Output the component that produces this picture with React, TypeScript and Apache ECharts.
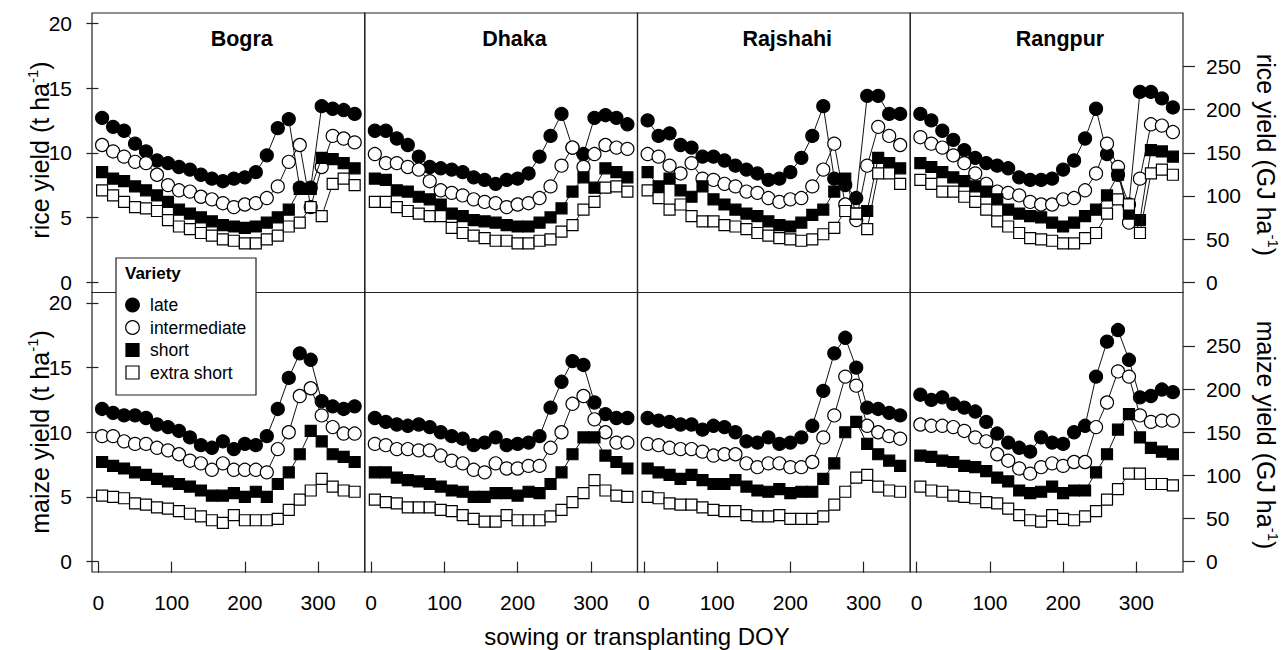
import React, { useEffect, useRef } from 'react';
import * as echarts from 'echarts';

// ---------- data ----------
const DOY = [5, 20, 35, 50, 65, 80, 95, 110, 125, 140, 155, 170, 185, 200, 215, 230, 245, 260, 275, 290, 305, 320, 335, 350];
const SITES = ['Bogra', 'Dhaka', 'Rajshahi', 'Rangpur'];
const VARIETIES = ['late', 'intermediate', 'short', 'extra short'];
const Y_TICKS = [0, 5, 10, 15, 20];
const GJ_TICKS = [0, 50, 100, 150, 200, 250];
const X_TICKS = [0, 100, 200, 300];
const GJ_PER_T = 15;

// rice (t/ha)
const BOGRA_RICE_LATE = [12.7, 12.0, 11.7, 10.7, 10.1, 9.4, 9.2, 8.9, 8.7, 8.3, 8.0, 7.8, 8.0, 8.1, 8.5, 9.8, 11.9, 12.6, 7.3, 7.3, 13.6, 13.4, 13.3, 13.0];
const BOGRA_RICE_INTER = [10.6, 10.1, 9.7, 9.3, 9.2, 8.3, 7.5, 7.1, 7.0, 6.6, 6.4, 6.1, 5.8, 6.0, 6.1, 6.5, 7.4, 9.3, 10.6, 5.8, 8.9, 11.3, 11.1, 10.8];
const BOGRA_RICE_SHORT = [8.5, 8.0, 7.8, 7.4, 7.1, 6.7, 6.2, 5.6, 5.3, 5.0, 4.7, 4.4, 4.3, 4.2, 4.3, 4.6, 5.0, 5.6, 7.2, 7.2, 9.6, 9.5, 9.2, 8.8];
const BOGRA_RICE_XSHORT = [7.1, 6.7, 6.2, 5.8, 5.7, 5.5, 4.8, 4.3, 4.1, 3.8, 3.6, 3.3, 3.2, 3.0, 3.0, 3.3, 3.6, 4.3, 4.6, 5.8, 5.1, 7.6, 8.0, 7.5];

const DHAKA_RICE_LATE = [11.7, 11.7, 11.1, 10.6, 9.7, 8.9, 8.8, 8.7, 8.5, 8.1, 7.9, 7.6, 7.9, 8.0, 8.4, 9.7, 11.3, 13.0, 10.4, 9.9, 12.7, 12.9, 12.7, 12.2];
const DHAKA_RICE_INTER = [9.9, 9.2, 9.2, 8.9, 8.7, 7.8, 7.1, 6.9, 6.7, 6.4, 6.2, 6.1, 5.8, 6.0, 6.1, 6.5, 7.4, 9.0, 10.4, 8.9, 9.9, 10.6, 10.4, 10.3];
const DHAKA_RICE_SHORT = [8.0, 7.9, 7.1, 7.0, 6.6, 6.4, 6.0, 5.3, 5.1, 4.8, 4.7, 4.6, 4.4, 4.3, 4.3, 4.6, 5.0, 5.7, 7.0, 8.1, 7.3, 8.8, 8.5, 8.1];
const DHAKA_RICE_XSHORT = [6.2, 6.2, 5.8, 5.5, 5.3, 5.1, 5.1, 4.2, 3.8, 3.6, 3.4, 3.2, 3.2, 3.0, 3.0, 3.2, 3.3, 3.9, 4.4, 5.6, 6.2, 7.3, 7.4, 7.0];

const RAJSHAHI_RICE_LATE = [12.5, 11.3, 11.5, 10.6, 10.4, 9.7, 9.7, 9.4, 9.0, 8.7, 8.4, 7.9, 8.0, 8.5, 9.6, 11.3, 13.6, 8.0, 7.5, 6.5, 14.4, 14.4, 13.0, 13.0];
const RAJSHAHI_RICE_INTER = [9.9, 9.7, 9.0, 8.4, 9.2, 8.0, 7.9, 7.6, 7.4, 7.0, 6.9, 6.5, 6.2, 6.4, 6.5, 7.4, 8.7, 10.7, 6.0, 4.8, 9.0, 12.0, 11.3, 10.6];
const RAJSHAHI_RICE_SHORT = [8.5, 7.4, 8.0, 7.1, 6.6, 7.4, 6.4, 6.0, 5.6, 5.3, 5.1, 4.7, 4.4, 4.3, 4.6, 5.2, 5.6, 7.0, 8.0, 5.3, 5.5, 9.6, 9.2, 8.8];
const RAJSHAHI_RICE_XSHORT = [7.1, 6.5, 5.6, 6.0, 5.1, 4.7, 4.7, 4.4, 4.3, 4.1, 3.8, 3.6, 3.4, 3.3, 3.2, 3.3, 3.7, 4.2, 5.5, 5.3, 4.1, 8.4, 8.4, 7.6];

const RANGPUR_RICE_LATE = [13.0, 12.5, 11.7, 11.0, 10.2, 9.6, 9.2, 9.0, 8.8, 8.1, 7.9, 7.9, 8.0, 8.7, 9.4, 11.1, 13.4, 9.9, 8.3, 6.0, 14.7, 14.7, 14.2, 13.5];
const RANGPUR_RICE_INTER = [11.2, 10.7, 10.4, 9.8, 9.2, 8.4, 7.6, 7.0, 6.9, 6.7, 6.2, 6.0, 6.0, 6.4, 6.5, 7.1, 8.4, 10.7, 8.9, 4.6, 8.0, 12.2, 12.1, 11.6];
const RANGPUR_RICE_SHORT = [9.2, 8.9, 8.5, 8.1, 7.8, 7.4, 7.0, 6.4, 5.6, 5.3, 5.1, 5.0, 4.6, 4.3, 4.6, 5.1, 5.6, 6.7, 8.3, 5.3, 4.8, 10.2, 10.1, 9.7];
const RANGPUR_RICE_XSHORT = [7.9, 7.6, 7.0, 7.0, 6.6, 6.2, 5.6, 4.7, 4.3, 3.8, 3.4, 3.3, 3.2, 3.0, 3.0, 3.4, 3.8, 5.3, 6.4, 6.0, 3.8, 8.4, 8.7, 8.3];

// maize (t/ha)
const BOGRA_MAIZE_LATE = [11.8, 11.5, 11.3, 11.3, 11.1, 10.6, 10.4, 10.1, 9.6, 9.0, 8.8, 9.3, 8.7, 9.1, 9.0, 9.7, 11.8, 14.2, 16.1, 15.6, 12.4, 12.0, 11.8, 12.0];
const BOGRA_MAIZE_INTER = [9.7, 9.7, 9.3, 9.1, 9.1, 8.8, 8.6, 8.3, 7.8, 7.6, 7.1, 7.6, 7.1, 7.1, 7.1, 6.9, 8.7, 10.0, 12.8, 13.4, 11.3, 10.4, 9.9, 9.9];
const BOGRA_MAIZE_SHORT = [7.7, 7.4, 7.2, 6.9, 6.7, 6.4, 6.2, 6.0, 5.8, 5.5, 5.1, 5.1, 5.3, 5.0, 5.4, 5.0, 6.0, 6.9, 8.3, 10.1, 9.3, 8.3, 8.1, 7.7];
const BOGRA_MAIZE_XSHORT = [5.1, 5.0, 4.9, 4.5, 4.4, 4.2, 4.1, 3.9, 3.7, 3.5, 3.2, 3.0, 3.6, 3.2, 3.2, 3.2, 3.3, 4.0, 4.8, 5.5, 6.4, 5.8, 5.5, 5.4];

const DHAKA_MAIZE_LATE = [11.1, 10.8, 10.6, 10.5, 10.6, 10.4, 10.0, 9.7, 9.5, 9.0, 9.2, 9.6, 9.0, 9.1, 9.2, 9.7, 11.9, 13.9, 15.5, 15.2, 12.3, 11.4, 11.1, 11.1];
const DHAKA_MAIZE_INTER = [9.1, 9.0, 8.7, 8.7, 8.6, 8.6, 8.2, 7.8, 7.6, 7.1, 6.9, 7.6, 7.2, 7.2, 7.4, 7.4, 8.8, 10.0, 12.2, 12.8, 11.0, 10.0, 9.2, 9.2];
const DHAKA_MAIZE_SHORT = [6.9, 6.9, 6.5, 6.3, 6.2, 6.0, 5.8, 5.5, 5.4, 5.0, 5.0, 5.3, 5.3, 5.1, 5.4, 5.3, 6.0, 6.9, 8.3, 9.6, 9.6, 8.2, 7.7, 7.2];
const DHAKA_MAIZE_XSHORT = [4.8, 4.6, 4.5, 4.2, 4.2, 4.2, 4.0, 3.9, 3.6, 3.3, 3.1, 3.1, 3.6, 3.2, 3.2, 3.2, 3.5, 4.0, 4.6, 5.3, 6.3, 5.5, 5.1, 5.0];

const RAJSHAHI_MAIZE_LATE = [11.1, 10.9, 10.8, 10.6, 10.6, 10.2, 10.5, 10.4, 10.0, 9.3, 9.2, 9.6, 9.1, 9.2, 9.6, 10.5, 13.2, 16.1, 17.3, 15.0, 11.9, 11.8, 11.5, 11.3];
const RAJSHAHI_MAIZE_INTER = [9.1, 9.0, 8.8, 8.7, 8.7, 8.5, 8.2, 8.3, 8.3, 7.6, 7.3, 7.6, 7.6, 7.3, 7.3, 7.7, 9.6, 11.3, 14.3, 13.6, 10.5, 10.0, 9.7, 9.5];
const RAJSHAHI_MAIZE_SHORT = [7.2, 6.9, 6.7, 6.4, 6.7, 6.3, 6.0, 6.0, 6.3, 5.8, 5.5, 5.4, 5.6, 5.3, 5.4, 5.4, 6.4, 7.6, 10.0, 10.8, 9.1, 8.3, 7.8, 7.4];
const RAJSHAHI_MAIZE_XSHORT = [5.0, 4.9, 4.5, 4.4, 4.4, 4.2, 4.0, 3.9, 3.9, 3.6, 3.5, 3.5, 3.6, 3.3, 3.3, 3.3, 3.5, 4.4, 5.4, 6.5, 6.7, 5.8, 5.5, 5.4];

const RANGPUR_MAIZE_LATE = [12.9, 12.5, 12.7, 12.2, 11.9, 11.6, 10.8, 9.9, 9.2, 8.8, 8.5, 9.6, 9.2, 9.1, 10.0, 10.5, 14.3, 17.0, 17.9, 15.6, 12.7, 12.8, 13.3, 13.1];
const RANGPUR_MAIZE_INTER = [10.6, 10.5, 10.5, 10.4, 10.1, 9.6, 9.3, 8.3, 7.8, 7.2, 6.8, 7.3, 7.6, 7.4, 7.7, 7.7, 10.4, 12.3, 14.7, 14.3, 11.3, 10.8, 10.9, 10.9];
const RANGPUR_MAIZE_SHORT = [8.2, 8.1, 7.8, 7.7, 7.4, 7.3, 7.0, 6.5, 6.2, 5.5, 5.3, 5.4, 5.8, 5.3, 5.5, 5.5, 6.9, 8.3, 10.2, 11.4, 9.6, 8.8, 8.5, 8.3];
const RANGPUR_MAIZE_XSHORT = [5.8, 5.5, 5.4, 5.1, 5.0, 4.9, 4.6, 4.5, 4.1, 3.6, 3.2, 3.1, 3.6, 3.3, 3.2, 3.5, 3.9, 4.8, 5.6, 6.8, 6.8, 6.0, 6.0, 5.9];

const RICE = [
  [BOGRA_RICE_LATE, BOGRA_RICE_INTER, BOGRA_RICE_SHORT, BOGRA_RICE_XSHORT],
  [DHAKA_RICE_LATE, DHAKA_RICE_INTER, DHAKA_RICE_SHORT, DHAKA_RICE_XSHORT],
  [RAJSHAHI_RICE_LATE, RAJSHAHI_RICE_INTER, RAJSHAHI_RICE_SHORT, RAJSHAHI_RICE_XSHORT],
  [RANGPUR_RICE_LATE, RANGPUR_RICE_INTER, RANGPUR_RICE_SHORT, RANGPUR_RICE_XSHORT],
];
const MAIZE = [
  [BOGRA_MAIZE_LATE, BOGRA_MAIZE_INTER, BOGRA_MAIZE_SHORT, BOGRA_MAIZE_XSHORT],
  [DHAKA_MAIZE_LATE, DHAKA_MAIZE_INTER, DHAKA_MAIZE_SHORT, DHAKA_MAIZE_XSHORT],
  [RAJSHAHI_MAIZE_LATE, RAJSHAHI_MAIZE_INTER, RAJSHAHI_MAIZE_SHORT, RAJSHAHI_MAIZE_XSHORT],
  [RANGPUR_MAIZE_LATE, RANGPUR_MAIZE_INTER, RANGPUR_MAIZE_SHORT, RANGPUR_MAIZE_XSHORT],
];

// ---------- layout / styles ----------
const FONT = "'Liberation Sans', Arial, Helvetica, sans-serif";
const PLOT_LEFT = 92;
const PANEL_W = 272.75;
const ROW_TOP = [13, 292.5];
const PANEL_H = 279.5;
const X_MIN = -8.8;
const X_MAX = 363.8;
const Y_MIN = -0.8;
const Y_MAX = 20.8;
const MARKERS = [
  { symbol: 'circle', size: 13, fill: '#000' },
  { symbol: 'circle', size: 13, fill: '#fff' },
  { symbol: 'rect', size: 11, fill: '#000' },
  { symbol: 'rect', size: 11, fill: '#fff' },
];

function buildOption() {
  const grid: any[] = [];
  const xAxis: any[] = [];
  const yAxis: any[] = [];
  const series: any[] = [];
  const tickLabel = { fontSize: 21, color: '#000', fontFamily: FONT };
  const tickLine = { color: '#222', width: 1.2 };

  for (let row = 0; row < 2; row++) {
    for (let col = 0; col < 4; col++) {
      const gi = row * 4 + col;
      grid.push({
        left: PLOT_LEFT + col * PANEL_W,
        top: ROW_TOP[row],
        width: PANEL_W,
        height: PANEL_H,
        show: true,
        borderColor: '#222',
        borderWidth: 1.2,
        backgroundColor: 'transparent',
        containLabel: false,
        outerBoundsMode: 'none',
      });
      const bottom = row === 1;
      xAxis.push({
        type: 'value',
        gridIndex: gi,
        min: X_MIN,
        max: X_MAX,
        axisLine: { show: false },
        splitLine: { show: false },
        axisTick: { show: bottom, customValues: X_TICKS, length: 11, lineStyle: tickLine },
        axisLabel: { show: bottom, customValues: X_TICKS, margin: 20, ...tickLabel },
      });
      const left = col === 0;
      yAxis.push({
        type: 'value',
        gridIndex: gi,
        min: Y_MIN,
        max: Y_MAX,
        position: 'left',
        axisLine: { show: false },
        splitLine: { show: false },
        axisTick: { show: left, customValues: Y_TICKS, length: 12, lineStyle: tickLine },
        axisLabel: { show: left, customValues: Y_TICKS, margin: 20, ...tickLabel },
      });
      const sets = row === 0 ? RICE[col] : MAIZE[col];
      sets.forEach((vals, vi) => {
        const m = MARKERS[vi];
        series.push({
          type: 'line',
          name: VARIETIES[vi],
          xAxisIndex: gi,
          yAxisIndex: gi,
          data: DOY.map((d, i) => [d, vals[i]]),
          symbol: m.symbol,
          symbolSize: m.size,
          showSymbol: true,
          showAllSymbol: true,
          itemStyle: { color: m.fill, borderColor: '#000', borderWidth: 1.2, opacity: 1 },
          lineStyle: { color: '#111', width: 1 },
          emphasis: { disabled: true },
          z: 2 + vi,
        });
      });
    }
  }

  // right-hand GJ axes on the last column
  [3, 7].forEach((gi) => {
    yAxis.push({
      type: 'value',
      gridIndex: gi,
      min: Y_MIN * GJ_PER_T,
      max: Y_MAX * GJ_PER_T,
      position: 'right',
      axisLine: { show: false },
      splitLine: { show: false },
      axisTick: { show: true, customValues: GJ_TICKS, length: 12, lineStyle: tickLine },
      axisLabel: { show: true, customValues: GJ_TICKS, margin: 23, ...tickLabel },
    });
  });

  const graphic: any[] = [];
  SITES.forEach((s, col) => {
    graphic.push({
      type: 'text',
      x: 241.7 + col * PANEL_W,
      y: 38.5,
      style: {
        text: s,
        fill: '#000',
        font: `bold 21.5px ${FONT}`,
        align: 'center',
        verticalAlign: 'middle',
      },
    });
  });

  const richName = (main: string, tail: string) => ({
    text: `{a|${main}}{s|-1}{a|${tail}}`,
    rich: {
      a: { fontSize: 25, fontFamily: FONT, lineHeight: 30, fill: '#000' },
      s: { fontSize: 15, fontFamily: FONT, lineHeight: 15, verticalAlign: 'top', fill: '#000' },
    },
    align: 'center',
    verticalAlign: 'middle',
    fill: '#000',
  });

  graphic.push(
    { type: 'text', x: 40, y: 150, rotation: Math.PI / 2, style: richName('rice yield (t ha', ')') },
    { type: 'text', x: 40, y: 432, rotation: Math.PI / 2, style: richName('maize yield (t ha', ')') },
    { type: 'text', x: 1266, y: 155, rotation: -Math.PI / 2, style: richName('rice yield (GJ ha', ')') },
    { type: 'text', x: 1266, y: 435, rotation: -Math.PI / 2, style: richName('maize yield (GJ ha', ')') },
    {
      type: 'text',
      x: 637,
      y: 636,
      style: {
        text: 'sowing or transplanting DOY',
        fill: '#000',
        font: `24px ${FONT}`,
        align: 'center',
        verticalAlign: 'middle',
      },
    }
  );

  // legend box
  const legendItems: any[] = [
    { type: 'rect', shape: { x: 116, y: 258, width: 140, height: 137 }, style: { fill: '#fff', stroke: '#222', lineWidth: 1.2 } },
    { type: 'text', x: 125, y: 273, style: { text: 'Variety', font: `bold 17px ${FONT}`, fill: '#000', verticalAlign: 'middle' } },
  ];
  const legendY = [305, 327.5, 350, 372.5];
  VARIETIES.forEach((v, i) => {
    const m = MARKERS[i];
    const cy = legendY[i];
    if (m.symbol === 'circle') {
      legendItems.push({ type: 'circle', shape: { cx: 132.5, cy, r: 6.8 }, style: { fill: m.fill, stroke: '#000', lineWidth: 1.2 } });
    } else {
      legendItems.push({ type: 'rect', shape: { x: 126, y: cy - 6.5, width: 13, height: 13 }, style: { fill: m.fill, stroke: '#000', lineWidth: 1.2 } });
    }
    legendItems.push({ type: 'text', x: 150, y: cy, style: { text: v, font: `17.5px ${FONT}`, fill: '#000', verticalAlign: 'middle' } });
  });
  graphic.push({ type: 'group', z: 100, children: legendItems });

  return {
    animation: false,
    backgroundColor: '#fff',
    grid,
    xAxis,
    yAxis,
    series,
    graphic,
  };
}

export default function App() {
  const ref = useRef<HTMLDivElement>(null);
  useEffect(() => {
    if (!ref.current) return;
    const chart = echarts.init(ref.current, null, { renderer: 'svg', width: 1285, height: 650 });
    chart.setOption(buildOption() as any);
    return () => chart.dispose();
  }, []);
  return (
    <div
      ref={ref}
      style={{ position: 'absolute', left: 0, top: 0, width: 1285, height: 650, background: '#fff' }}
    />
  );
}
